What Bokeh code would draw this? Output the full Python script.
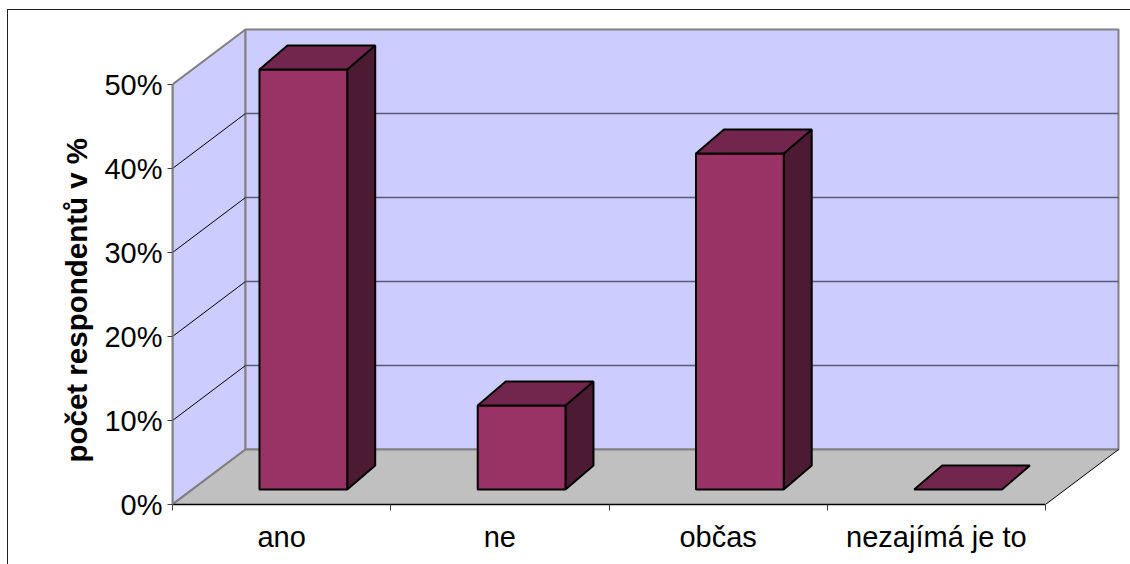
from bokeh.embed import file_html
from bokeh.models import FixedTicker, InlineStyleSheet, Range1d, Title
from bokeh.plotting import figure
from bokeh.resources import INLINE

# Survey results
categories = ["ano", "ne", "občas", "nezajímá je to"]
shares = [50, 10, 40, 0]
y_ticks = [0, 10, 20, 30, 40, 50]
y_title = "počet respondentů v %"

# Oblique projection of the 3D box, expressed in axis units
PX_PER_CAT = 218.25
PX_PER_PCT = 8.4
BOX_DX = 73 / PX_PER_CAT
BOX_DY = 55 / PX_PER_PCT
BAR_SHIFT_X = 21.5 / PX_PER_CAT
BAR_SHIFT_Y = 15 / PX_PER_PCT
BAR_DEPTH_X = 28 / PX_PER_CAT
BAR_DEPTH_Y = 24 / PX_PER_PCT
BAR_MARGIN = 0.3
BAR_WIDTH = 0.402

WALL = "#CCCCFF"
FLOOR = "#C0C0C0"
EDGE = "#808080"
FRONT = "#993366"
SIDE = "#4D1A33"
TOP = "#73264D"

n = len(categories)
ymax = y_ticks[-1]

# Border around the whole chart, open towards the right and bottom of the page
border = InlineStyleSheet(css="""
:host::after {
  content: ""; position: absolute; left: 7px; top: 9px; right: 0; bottom: 0;
  border-left: 1.5px solid #222222; border-top: 1.5px solid #222222;
  pointer-events: none;
}
""")

p = figure(
    width=1130, height=564, output_backend="svg", toolbar_location=None,
    x_range=Range1d(0, 958 / PX_PER_CAT), y_range=Range1d(0, 504 / PX_PER_PCT),
    min_border_left=172, min_border_right=0, min_border_top=0, min_border_bottom=60,
    background_fill_color="white", border_fill_color="white",
    stylesheets=[border],
)
p.outline_line_color = None
p.grid.visible = False

# Walls and floor of the box
p.patch([0, BOX_DX, BOX_DX, 0], [0, BOX_DY, ymax + BOX_DY, ymax],
        fill_color=WALL, line_color=EDGE, line_width=2)
p.patch([BOX_DX, n + BOX_DX, n + BOX_DX, BOX_DX], [BOX_DY, BOX_DY, ymax + BOX_DY, ymax + BOX_DY],
        fill_color=WALL, line_color=EDGE, line_width=2)
p.patch([0, n, n + BOX_DX, BOX_DX], [0, 0, BOX_DY, BOX_DY],
        fill_color=FLOOR, line_color=None)
p.line([BOX_DX, n + BOX_DX], [BOX_DY, BOX_DY], line_color=EDGE, line_width=2)
p.line([0, BOX_DX], [0, BOX_DY], line_color=EDGE, line_width=2)
p.line([n, n + BOX_DX], [0, BOX_DY], line_color="black", line_width=1)

# Gridlines running along the side wall and across the back wall
for t in y_ticks[1:-1]:
    p.line([0, BOX_DX], [t, t + BOX_DY], line_color="black", line_width=1)
    p.line([BOX_DX, n + BOX_DX], [t + BOX_DY, t + BOX_DY], line_color="#5A5A70", line_width=1.5)

# Bars
for i, v in enumerate(shares):
    x0 = i + BAR_MARGIN + BAR_SHIFT_X
    x1 = x0 + BAR_WIDTH
    y0 = BAR_SHIFT_Y
    y1 = y0 + v
    dx, dy = BAR_DEPTH_X, BAR_DEPTH_Y
    if v > 0:
        p.patch([x1, x1 + dx, x1 + dx, x1], [y0, y0 + dy, y1 + dy, y1],
                fill_color=SIDE, line_color="black", line_width=2)
        p.patch([x0, x1, x1, x0], [y0, y0, y1, y1],
                fill_color=FRONT, line_color="black", line_width=2)
    p.patch([x0, x1, x1 + dx, x0 + dx], [y1, y1, y1 + dy, y1 + dy],
            fill_color=TOP, line_color="black", line_width=2)

# Value axis
ya = p.yaxis[0]
ya.ticker = FixedTicker(ticks=y_ticks)
ya.bounds = (y_ticks[0], y_ticks[-1])
ya.major_label_overrides = {t: f"{t}%" for t in y_ticks}
ya.major_label_text_font = "Liberation Sans"
ya.major_label_text_font_size = "29px"
ya.major_label_text_color = "black"
ya.major_label_standoff = 5
ya.major_tick_in = 0
ya.major_tick_out = 5
ya.minor_tick_line_color = None
ya.axis_line_color = EDGE
ya.axis_line_width = 2
ya.major_tick_line_color = "#404040"

# Axis title, set lower than the frame's middle and left of the tick labels
p.add_layout(Title(
    text=y_title, align="left", offset=42, standoff=17,
    text_font="Liberation Sans", text_font_style="bold", text_font_size="29.5px",
    text_color="black",
), "left")

# Category axis: labels at bar slots, ticks on slot boundaries
xa = p.xaxis[0]
xa.ticker = FixedTicker(ticks=[i + 0.5 for i in range(n)], minor_ticks=list(range(n + 1)))
xa.major_label_overrides = {i + 0.5: c for i, c in enumerate(categories)}
xa.bounds = (0, n)
xa.major_label_text_font = "Liberation Sans"
xa.major_label_text_font_size = "29px"
xa.major_label_text_color = "black"
xa.major_label_standoff = 10
xa.major_tick_line_color = None
xa.minor_tick_in = 0
xa.minor_tick_out = 6
xa.minor_tick_line_color = "#404040"
xa.axis_line_color = "black"
xa.axis_line_width = 1.5

open("out.html", "w").write(file_html(p, INLINE))
